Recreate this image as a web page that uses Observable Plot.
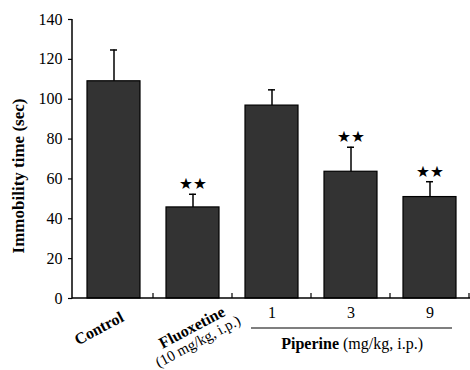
<!DOCTYPE html>
<html>
<head>
<meta charset="utf-8">
<script src="https://cdn.jsdelivr.net/npm/d3@7"></script>
<script src="https://cdn.jsdelivr.net/npm/@observablehq/plot@0.6"></script>
<style>
  html, body { margin: 0; padding: 0; background: #fff; }
  #chart svg text { font-family: 'Liberation Serif', 'Times New Roman', serif; }
  #chart svg .stars text { font-family: 'DejaVu Sans', sans-serif; }
</style>
</head>
<body>
<div id="chart"></div>
<script>
const categories = ["Control", "Fluoxetine", "Piperine 1", "Piperine 3", "Piperine 9"];
const means = [109, 45.7, 96.8, 63.6, 50.9];
const errors = [15.7, 6.6, 7.9, 12.3, 7.7];
const significance = ["", "★★", "", "★★", "★★"];
const yTicks = [0, 20, 40, 60, 80, 100, 120, 140];
const doseCategories = ["Piperine 1", "Piperine 3", "Piperine 9"];
const doseLabels = ["1", "3", "9"];
const yLabel = "Immobility time (sec)";

const data = categories.map((c, i) => ({
  cat: c, mean: means[i], top: means[i] + errors[i], sig: significance[i]
}));
const doses = doseCategories.map((c, i) => ({cat: c, label: doseLabels[i]}));

const serif = "'Liberation Serif', 'Times New Roman', serif";

const plot = Plot.plot({
  width: 470,
  height: 370,
  marginLeft: 72,
  marginRight: 0,
  marginTop: 19,
  marginBottom: 72,
  style: {fontFamily: serif, background: "#fff", color: "#000", overflow: "visible"},
  x: {domain: categories, paddingInner: 0.33, paddingOuter: 0.165, axis: null},
  y: {domain: [0, 140], axis: null},
  marks: [
    Plot.barY(data, {x: "cat", y: "mean", fill: "#333333", stroke: "#000", strokeWidth: 1.2}),
    Plot.ruleX(data, {x: "cat", y1: "mean", y2: "top", stroke: "#000", strokeWidth: 1.5}),
    Plot.tickY(data, {x: "cat", y: "top", stroke: "#000", strokeWidth: 1.5, insetLeft: 23, insetRight: 23}),
    Plot.text(data.filter(d => d.sig), {x: "cat", y: "top", text: "sig", dy: -10, fontSize: 15.5, fill: "#000", lineAnchor: "middle", className: "stars"}),
    Plot.axisY(yTicks, {anchor: "left", tickSize: 4, tickPadding: 6, fontSize: 16, label: null, stroke: "#000", strokeWidth: 1.2, fill: "#000"}),
    Plot.text([yLabel], {frameAnchor: "left", textAnchor: "middle", rotate: -90, dx: -54, dy: 17, fontSize: 17, fontWeight: "bold", fill: "#000", lineAnchor: "middle"}),
    Plot.text(["Control"], {x: () => "Control", frameAnchor: "bottom", textAnchor: "middle", rotate: -28, dx: -15, dy: 30, fontSize: 16, fontWeight: "bold", fill: "#000", lineAnchor: "middle"}),
    Plot.text(["Fluoxetine"], {x: () => "Fluoxetine", frameAnchor: "bottom", textAnchor: "middle", rotate: -28, dx: -1, dy: 29, fontSize: 16, fontWeight: "bold", fill: "#000", lineAnchor: "middle"}),
    Plot.text(["(10 mg/kg, i.p.)"], {x: () => "Fluoxetine", frameAnchor: "bottom", textAnchor: "middle", rotate: -28, dx: 5, dy: 43, fontSize: 15, fill: "#000", lineAnchor: "middle"}),
    Plot.text(doses, {x: "cat", text: "label", frameAnchor: "bottom", dy: 14, fontSize: 16, fill: "#000", lineAnchor: "middle"}),
    Plot.text(["Piperine"], {x: () => "Piperine 3", frameAnchor: "bottom", dx: -12, dy: 45, textAnchor: "end", fontSize: 16, fontWeight: "bold", fill: "#000", lineAnchor: "middle"}),
    Plot.text(["\u00a0(mg/kg, i.p.)"], {x: () => "Piperine 3", frameAnchor: "bottom", dx: -12, dy: 45, textAnchor: "start", fontSize: 16, fill: "#000", lineAnchor: "middle"})
  ]
});

// axis lines, category boundary ticks and the piperine bracket, from the plot's own scales
const xs = plot.scale("x");
const ys = plot.scale("y");
const svg = d3.select(plot);
const x = c => xs.apply(c);
const bw = xs.bandwidth;
const step = xs.step;
const y0 = ys.apply(0);
const yTop = ys.apply(140);
const xLeft = xs.range[0];
const xRight = xs.range[1];
const g = svg.append("g").attr("stroke", "#000").attr("fill", "none");
g.append("line").attr("x1", xLeft).attr("x2", xLeft).attr("y1", yTop).attr("y2", y0 + 0.5).attr("stroke-width", 1.5);
g.append("line").attr("x1", xLeft).attr("x2", xRight).attr("y1", y0).attr("y2", y0).attr("stroke-width", 1.5);
categories.forEach(c => {
  const bx = Math.min(x(c) + bw + (step - bw) / 2, xRight - 1);
  g.append("line").attr("x1", bx).attr("x2", bx).attr("y1", y0).attr("y2", y0 - 5).attr("stroke-width", 1.2);
});
const bx1 = x(doseCategories[0]) + 6;
const bx2 = x(doseCategories[doseCategories.length - 1]) + bw - 4;
g.append("line").attr("x1", bx1).attr("x2", bx2).attr("y1", y0 + 30).attr("y2", y0 + 30).attr("stroke-width", 1.2);

document.getElementById("chart").appendChild(plot);
</script>
</body>
</html>
